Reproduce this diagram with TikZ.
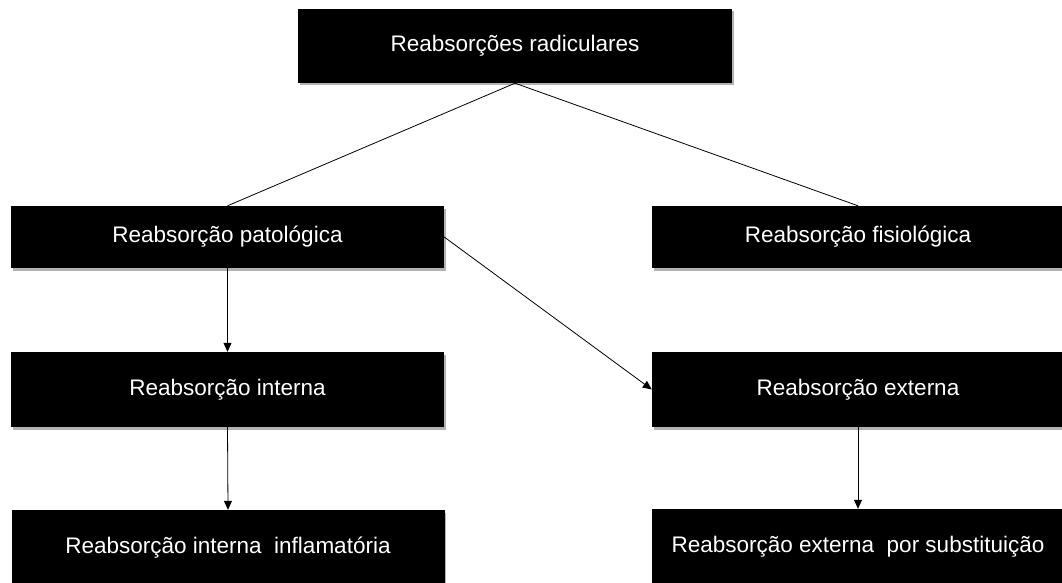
\documentclass[tikz,border=0pt]{standalone}
\usepackage{fontspec}
\setmainfont{Liberation Sans}
\usetikzlibrary{shadows,arrows.meta}
\tikzset{
  box/.style={fill=black, text=white, draw=none, inner sep=0pt,
    font=\fontsize{22.5}{26}\selectfont,
    drop shadow={shadow xshift=1.5pt, shadow yshift=-2.5pt, fill=black, opacity=0.3}},
  link/.style={draw=black, line width=0.8pt},
  arr/.style={link, -{Triangle[length=9pt,width=8pt]}}
}
\begin{document}
\begin{tikzpicture}[x=1pt,y=-1pt]
\fill[white] (0,0) rectangle (1062,583);
\useasboundingbox (0,0) rectangle (1062,583);
\node[box, minimum width=434pt, minimum height=74pt] (top) at (515,46) {Reabsorções radiculares};
\node[box, minimum width=433pt, minimum height=62pt] (pat) at (227.5,237) {Reabsorção patológica};
\node[box, minimum width=412pt, minimum height=62pt] (fis) at (858,237) {Reabsorção fisiológica};
\node[box, minimum width=433pt, minimum height=75pt] (int) at (227.5,389.5) {Reabsorção interna};
\node[box, minimum width=412pt, minimum height=75pt] (ext) at (858,389.5) {Reabsorção externa};
\node[box, minimum width=433pt, minimum height=75pt] (inf) at (228,547.5) {Reabsorção interna\ \ inflamatória};
\node[box, minimum width=412pt, minimum height=75pt] (sub) at (858,546.5) {Reabsorção externa\ \ por substituição};
\draw[link] (top.south) -- (pat.north);
\draw[link] (top.south) -- (fis.north);
\draw[arr] (pat.south) -- (int.north);
\draw[arr] (int.south) -- (inf.north);
\draw[arr] (ext.south) -- (sub.north);
\draw[arr] (pat.east) -- (ext.west);
\end{tikzpicture}
\end{document}
